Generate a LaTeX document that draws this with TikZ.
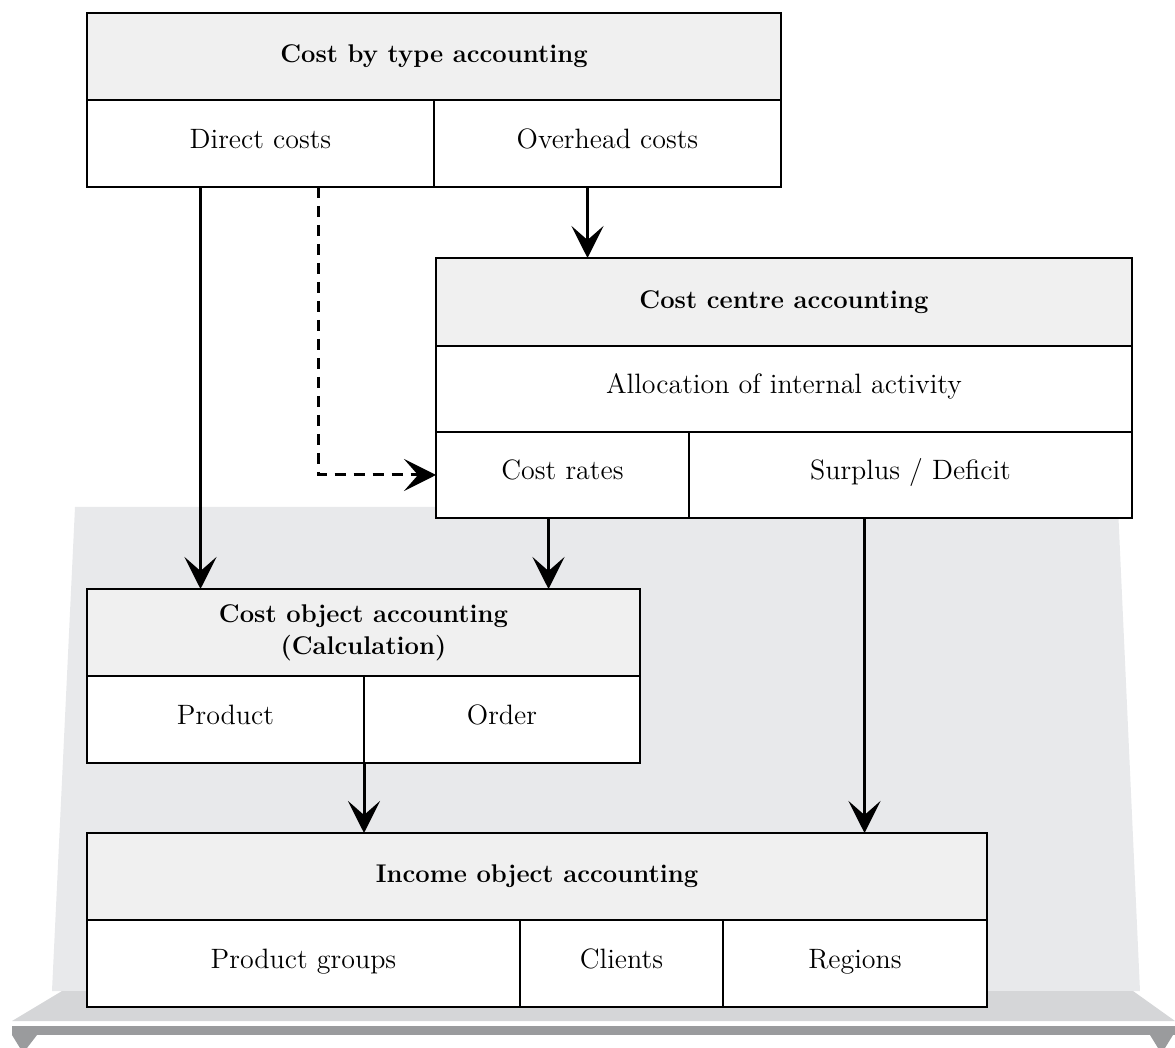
\documentclass[tikz,border=0pt]{standalone}
\usepackage{xcolor}
\usepackage{tikz}
\usetikzlibrary{positioning, calc, arrows.meta}

\definecolor{headgray}{HTML}{F0F0F0}
\definecolor{backgray}{HTML}{E8E9EB}
\definecolor{shelfgray}{HTML}{D5D6D8}
\definecolor{shelfdark}{HTML}{9A9B9D}

\begin{document}
\begin{tikzpicture}[x=0.5pt, y=-0.5pt,
    head/.style={rectangle, draw, fill=headgray, line width=1.2pt, anchor=north west, minimum height=43.5pt, inner sep=2pt, outer sep=0pt, align=center, font=\fontsize{12.8}{16}\selectfont\bfseries},
    cell/.style={rectangle, draw, fill=white, line width=1.2pt, anchor=north west, minimum height=43.5pt, inner sep=2pt, outer sep=0pt, text height=0.72em, text depth=0.22em, font=\fontsize{14}{17}\selectfont},
    flow/.style={-{Stealth[length=16pt, width=16pt, inset=7pt]}, line width=1.5pt}]
    \useasboundingbox (0,0) rectangle (1175,1048);

        % Background shelf
        \fill[backgray] (75,507) -- (1118,507) -- (1140,991) -- (52,991) -- cycle;
        \fill[shelfgray] (62,991) -- (1133,991) -- (1175,1021) -- (12,1021) -- cycle;
        \fill[shelfdark] (12,1026) rectangle (1175,1035);
        \fill[shelfdark] (12,1035) -- (37,1035) -- (27,1048) -- (20,1048) -- cycle;
        \fill[shelfdark] (1150,1035) -- (1173,1035) -- (1165,1048) -- (1158,1048) -- cycle;

        % Define blocks
        \node (typehead) [head, minimum width=347pt] at (87,13) {Cost by type accounting};
        \node (direct) [cell, minimum width=173.5pt] at (typehead.south west) {Direct costs};
        \node (overhead) [cell, minimum width=173.5pt] at (direct.north east) {Overhead costs};

        \node (centrehead) [head, minimum width=348pt, minimum height=44pt] at (436,258) {Cost centre accounting};
        \node (alloc) [cell, minimum width=348pt, minimum height=43pt] at (centrehead.south west) {Allocation of internal activity};
        \node (rates) [cell, minimum width=126.5pt, minimum height=43pt] at (alloc.south west) {Cost rates};
        \node (surplus) [cell, minimum width=221.5pt, minimum height=43pt] at (rates.north east) {Surplus / Deficit};

        \node (objhead) [head, minimum width=276.5pt] at (87,589) {Cost object accounting\\(Calculation)};
        \node (product) [cell, minimum width=138.5pt] at (objhead.south west) {Product};
        \node (order) [cell, minimum width=138pt] at (product.north east) {Order};

        \node (incomehead) [head, minimum width=450pt] at (87,833) {Income object accounting};
        \node (groups) [cell, minimum width=216.5pt] at (incomehead.south west) {Product groups};
        \node (clients) [cell, minimum width=101.5pt] at (groups.north east) {Clients};
        \node (regions) [cell, minimum width=132pt] at (clients.north east) {Regions};

        % Draw arrows
        \draw[flow] ([xshift=-30pt]direct.south) -- ([xshift=-30pt]direct.south |- objhead.north);
        \draw[flow, dash pattern=on 5.5pt off 4pt] ([xshift=29pt]direct.south) |- (rates.west);
        \draw[flow] ([xshift=-10pt]overhead.south) -- ([xshift=-10pt]overhead.south |- centrehead.north);
        \draw[flow] ([xshift=-7pt]rates.south) -- ([xshift=-7pt]rates.south |- objhead.north);
        \draw[flow] ([xshift=-23pt]surplus.south) -- ([xshift=-23pt]surplus.south |- incomehead.north);
        \draw[flow] (product.south east) -- (product.south east |- incomehead.north);

    \end{tikzpicture}
\end{document}
